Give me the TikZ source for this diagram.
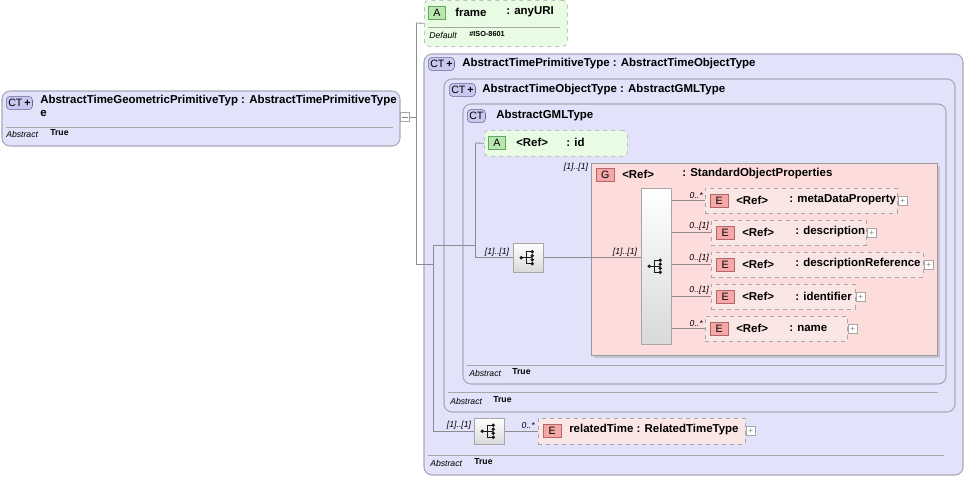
\documentclass[tikz,border=0pt]{standalone}
\usepackage{fontspec}
\setmainfont{Liberation Sans}
\usetikzlibrary{shadows}
\definecolor{ctfill}{HTML}{E2E2FA}
\definecolor{ctdraw}{HTML}{A8A8B8}
\definecolor{afill}{HTML}{E8FCE4}
\definecolor{efill}{HTML}{FBE6E6}
\definecolor{gfill}{HTML}{FDDCDC}
\definecolor{badgeE}{HTML}{F4A8A8}
\definecolor{badgeA}{HTML}{B8E8B0}
\definecolor{badgeCT}{HTML}{C8C8F0}
\definecolor{ln}{HTML}{8C8C8C}
\begin{document}
\begin{tikzpicture}[x=0.75pt,y=-0.75pt,
  ct/.style={draw=ctdraw,fill=ctfill,rounded corners=6pt,line width=0.8pt},
  att/.style={draw=gray!70,dashed,fill=afill},
  el/.style={draw=gray!70,dashed,fill=efill},
  grp/.style={draw=gray!80,fill=gfill,drop shadow={opacity=0.3,shadow xshift=2pt,shadow yshift=-2pt}},
  seqb/.style={draw=gray!70,left color=white,right color=gray!30,shading angle=0},
  sep/.style={draw=gray!70},
  cn/.style={draw=ln,line width=0.6pt},
  t/.style={font=\bfseries\fontsize{8.6}{9.8}\selectfont,anchor=west,inner sep=0pt},
  ti/.style={font=\itshape\fontsize{6.5}{7}\selectfont,anchor=west,inner sep=0pt},
  tb/.style={font=\bfseries\fontsize{6.5}{7}\selectfont,anchor=west,inner sep=0pt},
  card/.style={font=\itshape\fontsize{6.5}{7}\selectfont,inner sep=0pt},
  bE/.style={draw=red!50!black!60,fill=badgeE,font=\fontsize{8}{9}\selectfont,minimum width=13.5pt,minimum height=10pt,inner sep=0pt,anchor=west},
  bA/.style={draw=green!40!black!60,fill=badgeA,font=\fontsize{8}{9}\selectfont,minimum width=13pt,minimum height=10pt,inner sep=0pt,anchor=west},
  bCT/.style={draw=blue!30!black!60,fill=badgeCT,rounded corners=3pt,font=\fontsize{8}{9}\selectfont,minimum height=10pt,inner sep=1.5pt,anchor=west},
  plus/.style={draw=gray!70,fill=white,minimum size=6.5pt,inner sep=0pt,font=\fontsize{6}{6}\selectfont,text=gray,anchor=west}
]
\useasboundingbox (0,0) rectangle (968,479);

% outer CT boxes
\path[ct] (424,54) rectangle (963,475);
\draw[sep] (428,455) -- (944,455);
\node[ti] at (430,463) {Abstract}; \node[tb] at (474,462) {True};
\node[bCT] (ct1) at (428,64) {CT\,\textbf{+}};
\node[t] at (462,64) {AbstractTimePrimitiveType : AbstractTimeObjectType};

\path[ct] (444,79) rectangle (955,412);
\draw[sep] (448,392) -- (938,392);
\node[ti] at (450,401) {Abstract}; \node[tb] at (493,400) {True};
\node[bCT] (ct2) at (449,90) {CT\,\textbf{+}};
\node[t] at (482,90) {AbstractTimeObjectType : AbstractGMLType};

\path[ct] (463,104) rectangle (946,384);
\draw[sep] (467,365) -- (944,365);
\node[ti] at (469,373) {Abstract}; \node[tb] at (512,372) {True};
\node[bCT] (ct3) at (467,116) {CT};
\node[t] at (496,116) {AbstractGMLType};

% left root
\path[ct] (2,91) rectangle (400,146);
\draw[sep] (6,127) -- (393,127);
\node[bCT] (ct0) at (6,103) {CT\,\textbf{+}};
\node[t] at (40,101) {AbstractTimeGeometricPrimitiveTyp : AbstractTimePrimitiveType};
\node[t] at (40,113) {e};
\node[ti] at (6,134) {Abstract}; \node[tb] at (50,133) {True};
\node[draw=gray!70,fill=white,minimum size=6.5pt,inner sep=0pt] (col) at (405,117) {};
\draw[gray] (402,117) -- (408,117);

% frame attribute
\node[att,minimum width=107.25pt,minimum height=34.5pt,anchor=north west,inner sep=0pt,rounded corners=3pt] (frame) at (424,0) {};
\draw[sep] (428,27) -- (560,27);
\node[bA] at (428,13) {A};
\node[t] at (455,12) {frame};
\node[t] at (506,12) {: anyURI};
\node[ti] at (429,35) {Default}; \node[tb] at (469,34) {\fontsize{5.5}{6}\selectfont \#ISO-8601};

% id attribute
\node[att,minimum width=107.25pt,minimum height=19.5pt,anchor=north west,inner sep=0pt,rounded corners=3pt] (id) at (484,130) {};
\node[bA] at (488,143) {A};
\node[t] at (516,142) {<Ref>};
\node[t] at (566,142) {: id};

% group
\node[grp,minimum width=259.5pt,minimum height=144pt,anchor=north west,inner sep=0pt] (grp) at (591,163) {};
\node[bE] at (596,175) {G};
\node[t] at (622,174) {<Ref>};
\node[t] at (682,174) {: StandardObjectProperties};
\node[card] at (576,167) {[1]..[1]};

% sequences
\node[seqb,minimum width=22.5pt,minimum height=117pt,anchor=north west,inner sep=0pt] (s2) at (641,188) {};
\node[seqb,minimum width=22.5pt,minimum height=21.75pt,anchor=north west,inner sep=0pt] (s1) at (513,243) {};
\node[seqb,minimum width=22.5pt,minimum height=19.5pt,anchor=north west,inner sep=0pt] (s3) at (474,418) {};
\foreach \n in {s1,s2,s3}{
  \begin{scope}[shift={(\n.center)}]
    \fill[gray!20!black] (-7,0) circle (1.8);
    \draw[gray!20!black,line width=0.7pt] (-7,0) -- (-2,0) (-2,-6) -- (-2,6) (-2,-6) -- (4,-6) (-2,0) -- (4,0) (-2,6) -- (4,6);
    \fill[gray!20!black] (4,-6) circle (1.9) (4,-2) circle (1.9) (4,2) circle (1.9) (4,6) circle (1.9);
  \end{scope}}

% elements
\foreach \x/\y/\w/\lbl/\cd [count=\i] in {705/188/192/: metaDataProperty/0..*,
   711/220/155/: description/0..[1],
   711/252/212/: descriptionReference/0..[1],
   711/284/144/: identifier/0..[1],
   705/316/142/: name/0..*}{
  \node[el,minimum width=\w*0.75pt,minimum height=18.75pt,anchor=north west,inner sep=0pt] (e\i) at (\x,\y) {};
  \node[bE] at (\x+5,\y+13) {E};
  \node[t] at (\x+31,\y+12) {<Ref>};
  \node[t] at (\x+84,\y+12) {\lbl};
  \node[plus] at (\x+\w+1,\y+13) {+};
  \draw[cn] (s2.east|-e\i.west) -- (e\i.west);
  \node[card,anchor=south east] at (\x-2,\y+11) {\cd};
}

% relatedTime
\node[el,minimum width=155.25pt,minimum height=19.5pt,anchor=north west,inner sep=0pt] (rt) at (538,418) {};
\node[bE] at (543,431) {E};
\node[t] at (569,430) {relatedTime : RelatedTimeType};
\node[plus] at (746,431) {+};
\node[card,anchor=south east] at (535,429) {0..*};

% connectors
\coordinate (j0) at (416,117);
\coordinate (jf) at (416,23);
\coordinate (jb) at (416,264);
\coordinate (jc) at (433,264);
\coordinate (ja) at (475,143);
\draw[cn] (col.east) -- (j0);
\draw[cn] (jf) -- (jb);
\draw[cn] (jf) -- (frame.west);
\draw[cn] (jb) -- (jc) -- (433,245) -- (475,245);
\draw[cn] (jc) -- (s3.west -| jc) -- (s3.west);
\draw[cn] (ja) -- (id.west);
\draw[cn] (ja) -- (ja |- s1.west) -- (s1.west);
\draw[cn] (s1.east) -- (s1.east -| s2.west);
\draw[cn] (s3.east) -- (rt.west);
\node[card] at (497,252) {[1]..[1]};
\node[card] at (625,252) {[1]..[1]};
\node[card] at (459,425) {[1]..[1]};
\end{tikzpicture}
\end{document}
